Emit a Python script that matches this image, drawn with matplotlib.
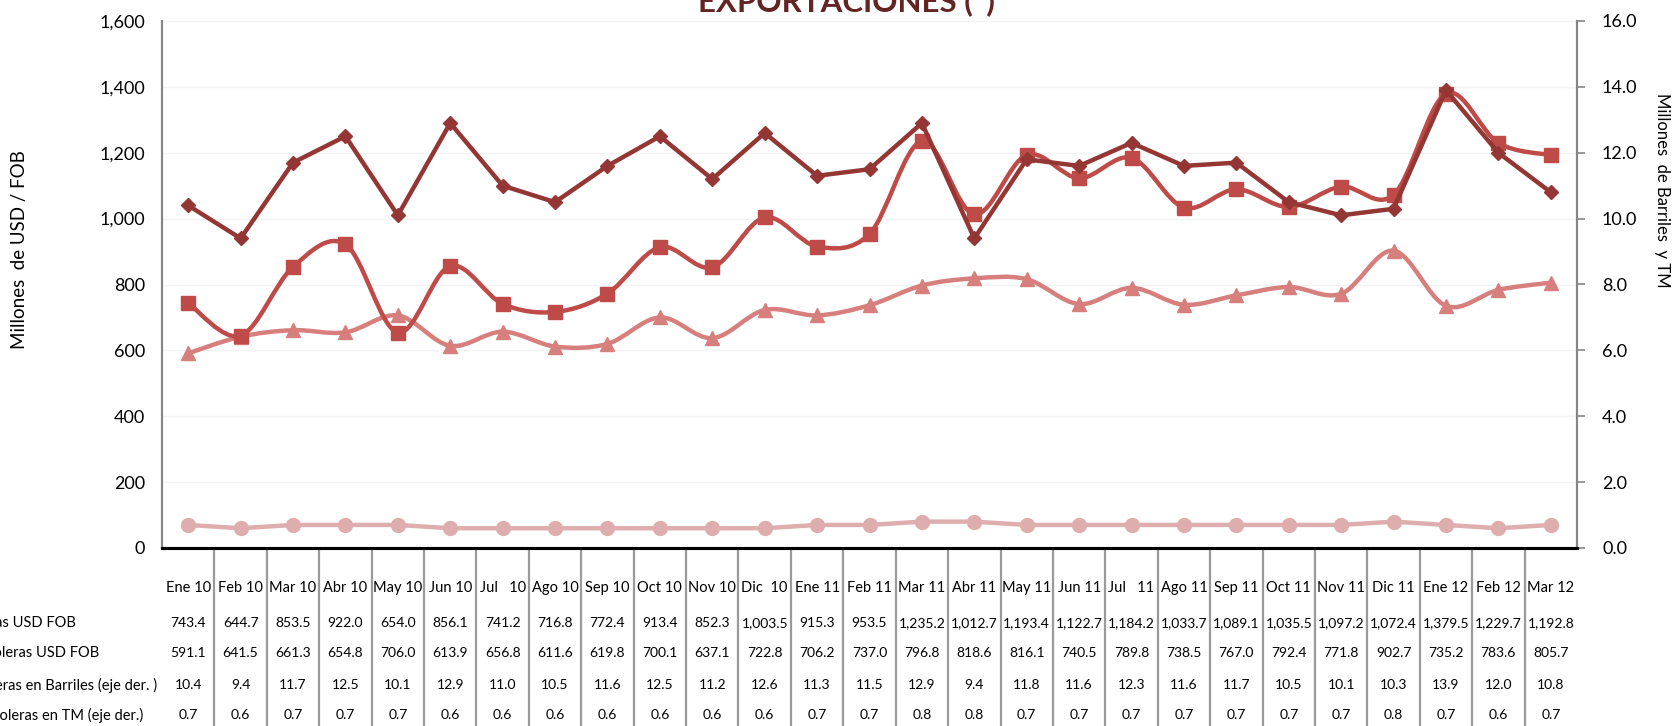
import matplotlib
matplotlib.use("Agg")
import matplotlib.pyplot as plt
from matplotlib.path import Path
from matplotlib.patches import PathPatch
from matplotlib.lines import Line2D
from matplotlib.transforms import blended_transform_factory
import numpy as np

plt.rcParams['font.family'] = ['Lato', 'DejaVu Sans']

months = ["Ene 10", "Feb 10", "Mar 10", "Abr 10", "May 10", "Jun 10", "Jul   10",
          "Ago 10", "Sep 10", "Oct 10", "Nov 10", "Dic  10", "Ene 11", "Feb 11",
          "Mar 11", "Abr 11", "May 11", "Jun 11", "Jul   11", "Ago 11", "Sep 11",
          "Oct 11", "Nov 11", "Dic 11", "Ene 12", "Feb 12", "Mar 12"]

petroleras_usd = [743.4, 644.7, 853.5, 922.0, 654.0, 856.1, 741.2, 716.8, 772.4,
                  913.4, 852.3, 1003.5, 915.3, 953.5, 1235.2, 1012.7, 1193.4,
                  1122.7, 1184.2, 1033.7, 1089.1, 1035.5, 1097.2, 1072.4, 1379.5,
                  1229.7, 1192.8]
no_petroleras_usd = [591.1, 641.5, 661.3, 654.8, 706.0, 613.9, 656.8, 611.6, 619.8,
                     700.1, 637.1, 722.8, 706.2, 737.0, 796.8, 818.6, 816.1, 740.5,
                     789.8, 738.5, 767.0, 792.4, 771.8, 902.7, 735.2, 783.6, 805.7]
petroleras_barriles = [10.4, 9.4, 11.7, 12.5, 10.1, 12.9, 11.0, 10.5, 11.6, 12.5,
                       11.2, 12.6, 11.3, 11.5, 12.9, 9.4, 11.8, 11.6, 12.3, 11.6,
                       11.7, 10.5, 10.1, 10.3, 13.9, 12.0, 10.8]
no_petroleras_tm = [0.7, 0.6, 0.7, 0.7, 0.7, 0.6, 0.6, 0.6, 0.6, 0.6, 0.6, 0.6,
                    0.7, 0.7, 0.8, 0.8, 0.7, 0.7, 0.7, 0.7, 0.7, 0.7, 0.7, 0.8,
                    0.7, 0.6, 0.7]

row_labels = ["Petroleras USD FOB", "No Petroleras USD FOB",
              "Petroleras en Barriles (eje der. )", "No Petroleras en TM (eje der.)"]

c_dia = '#943634'
c_sq = '#BE4B48'
c_tri = '#D67F7D'
c_circ = '#DDAEAD'


def smooth_path(xs, ys):
    # catmull-rom turned into cubic bezier segments (like excel "smoothed line")
    pts = np.column_stack([xs, ys]).astype(float)
    n = len(pts)
    verts = [pts[0]]
    codes = [Path.MOVETO]
    for i in range(n - 1):
        p0 = pts[i - 1] if i > 0 else pts[i]
        p1 = pts[i]
        p2 = pts[i + 1]
        p3 = pts[i + 2] if i + 2 < n else pts[i + 1]
        verts += [p1 + (p2 - p0) / 6.0, p2 - (p3 - p1) / 6.0, p2]
        codes += [Path.CURVE4] * 3
    return Path(verts, codes)


fig = plt.figure(figsize=(16.76, 7.26), dpi=100)
ax = fig.add_axes([162 / 1676, 1 - 548 / 726, (1577 - 162) / 1676, (548 - 21) / 726])
ax2 = ax.twinx()

x = np.arange(len(months))

# primary axis series (smoothed)
ax.add_patch(PathPatch(smooth_path(x, no_petroleras_usd), fill=False,
                       edgecolor=c_tri, lw=3.2, capstyle='round', joinstyle='round'))
ax.plot(x, no_petroleras_usd, ls='none', marker='^', ms=10, color=c_tri)
ax.add_patch(PathPatch(smooth_path(x, petroleras_usd), fill=False,
                       edgecolor=c_sq, lw=3.2, capstyle='round', joinstyle='round'))
ax.plot(x, petroleras_usd, ls='none', marker='s', ms=10, color=c_sq)

# secondary axis series (straight)
ax2.plot(x, no_petroleras_tm, color=c_circ, lw=3.2, marker='o', ms=10)
ax2.plot(x, petroleras_barriles, color=c_dia, lw=3.2, marker='D', ms=7)

ax.set_xlim(-0.5, len(months) - 0.5)
ax.set_ylim(0, 1600)
ax.set_yticks(range(0, 1601, 200))
ax.set_yticklabels([f"{v:,}" for v in range(0, 1601, 200)])
ax2.set_ylim(0, 16)
ax2.set_yticks(range(0, 17, 2))
ax2.set_yticklabels([f"{v:.1f}" for v in range(0, 17, 2)])

ax.set_xticks([])
ax.grid(axis='y', color='#F3F3F3', lw=1)
ax.set_axisbelow(True)

for a in (ax, ax2):
    a.spines['top'].set_visible(False)
    a.spines['left'].set_color('#868686')
    a.spines['right'].set_color('#868686')
    a.spines['left'].set_linewidth(1.5)
    a.spines['right'].set_linewidth(1.5)
    a.spines['bottom'].set_color('black')
    a.spines['bottom'].set_linewidth(2.2)

ax.tick_params(axis='y', length=0, labelsize=13, pad=12)
ax2.tick_params(axis='y', length=6, width=1.2, color='#868686', labelsize=13, pad=12)

ax.set_ylabel("Millones  de USD / FOB", fontsize=13.5)
ax.yaxis.set_label_coords(28 / 1676, 1 - 250 / 726, transform=fig.transFigure)
ax2.set_ylabel("Millones  de Barriles  y TM", fontsize=12, rotation=270, va='center')
ax2.yaxis.set_label_coords(1662 / 1676, 1 - 190 / 726, transform=fig.transFigure)

fig.text(846 / 1676, 1 - 11 / 726, "EXPORTACIONES (*)", ha='center', va='baseline',
         fontsize=22.5, fontweight='bold', color='#632523')

# data table below the chart
tr = blended_transform_factory(ax.transData, fig.transFigure)
row_y = [1 - 623 / 726, 1 - 653 / 726, 1 - 685 / 726, 1 - 715 / 726]
rows = [
    [f"{v:,.1f}" for v in petroleras_usd],
    [f"{v:,.1f}" for v in no_petroleras_usd],
    [f"{v:.1f}" for v in petroleras_barriles],
    [f"{v:.1f}" for v in no_petroleras_tm],
]
for i, m in enumerate(months):
    ax.text(i, 1 - 588 / 726, m, transform=tr, ha='center', va='center',
            fontsize=10.5, clip_on=False)
    for r, yy in zip(rows, row_y):
        ax.text(i, yy, r[i], transform=tr, ha='center', va='center',
                fontsize=10, clip_on=False)
for i in range(1, len(months)):
    fig.add_artist(Line2D([i - 0.5, i - 0.5], [1 - 551 / 726, 0], transform=tr,
                          color='#9A9A9A', lw=1.6))

label_right = [76, 99, 157, 143]
for lab, xr, yy in zip(row_labels, label_right, row_y):
    fig.text(xr / 1676, yy, lab, ha='right', va='center', fontsize=10.5)

fig.savefig("out.png", dpi=100)
